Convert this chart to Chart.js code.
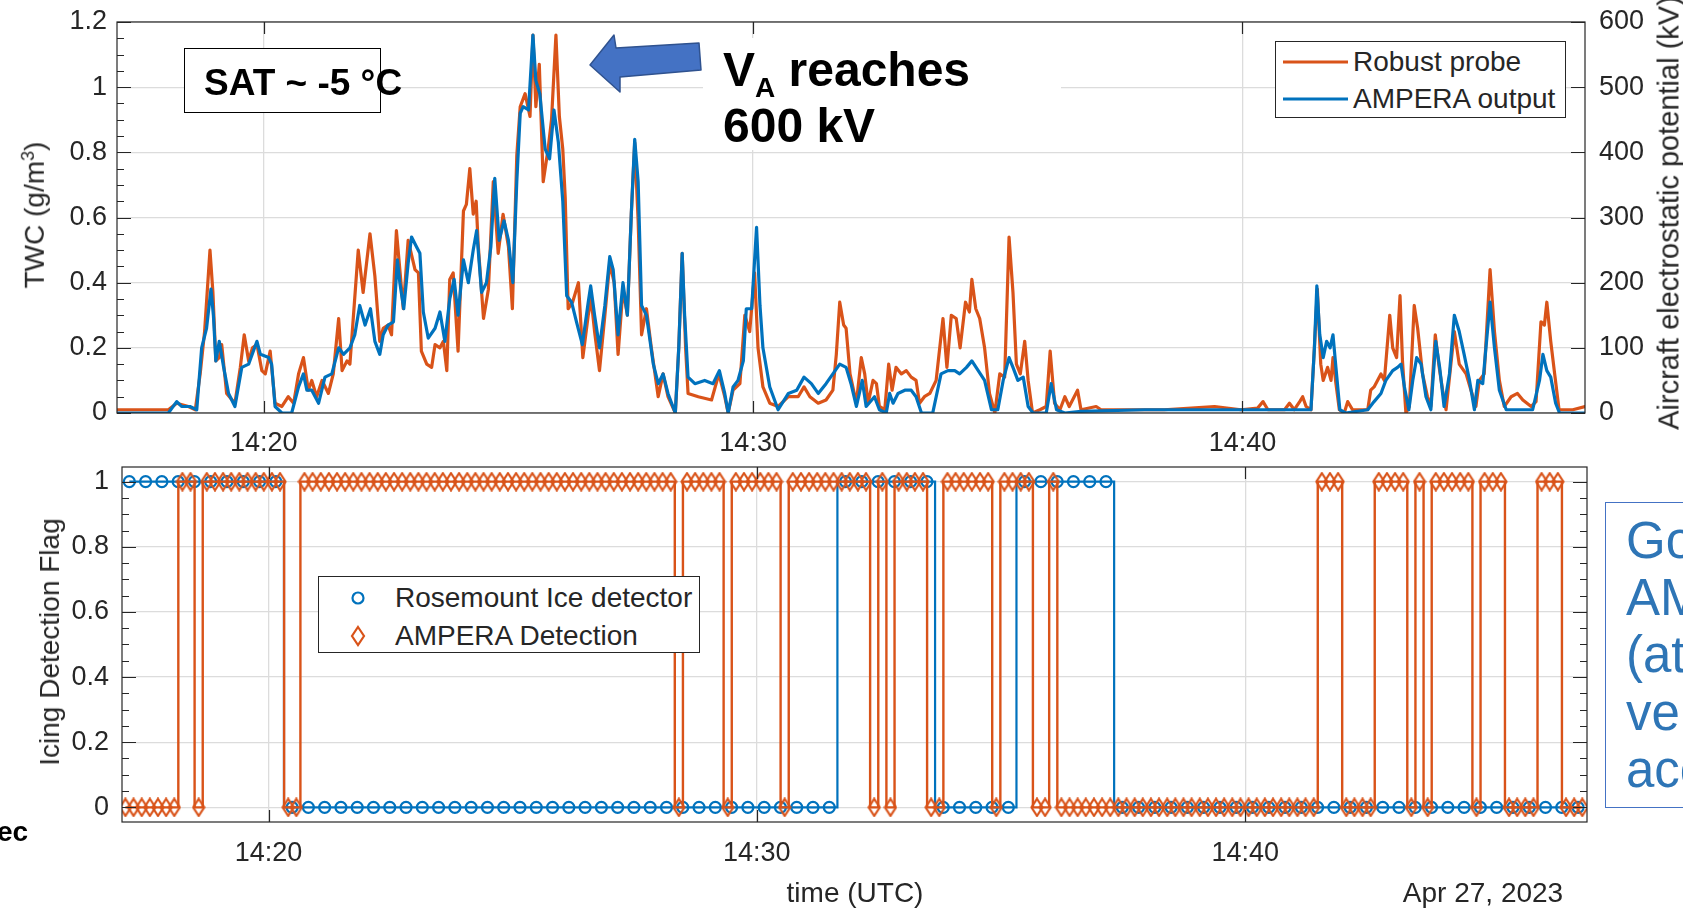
<!DOCTYPE html>
<html lang="en">
<head>
  <meta charset="UTF-8" />
  <title>TWC and icing detection - Apr 27, 2023</title>
  <script src="https://cdn.jsdelivr.net/npm/chart.js"></script>
  <style>
    body { margin: 0; background: #fff; }
    #fig {
      position: relative; width: 1683px; height: 908px; overflow: hidden;
      font-family: 'Liberation Sans', Arial, Helvetica, sans-serif; color: #262626;
    }
    #fig canvas { position: absolute; left: 0; }
    .lbl { position: absolute; white-space: nowrap; font-size: 28px; line-height: 1; }
    .rot { transform: translate(-50%, -50%) rotate(-90deg); }
    .ctr { transform: translate(-50%, -50%); }
    .box { position: absolute; background: #fff; box-sizing: border-box; }
    .legend { border: 1px solid #262626; }
    .bold { font-weight: bold; color: #000; }
  </style>
</head>
<body>
<div id="fig">
  <canvas id="twcChart" width="1683" height="460" style="top:0"></canvas>
  <canvas id="flagChart" width="1683" height="448" style="top:460px"></canvas>

  <!-- axis titles -->
  <div class="lbl rot" style="left:34px;top:215px">TWC (g/m<sup style="font-size:18px">3</sup>)</div>
  <div class="lbl rot" style="left:1669px;top:213px;font-size:29px">Aircraft electrostatic potential (kV)</div>
  <div class="lbl rot" style="left:50px;top:642px">Icing Detection Flag</div>
  <div class="lbl ctr" style="left:855px;top:893px">time (UTC)</div>
  <div class="lbl ctr" style="left:1483px;top:893px">Apr 27, 2023</div>

  <!-- top legend -->
  <div class="box legend" style="left:1275px;top:41px;width:291px;height:77px">
    <svg width="80" height="77" style="position:absolute;left:0;top:0">
      <line x1="7" y1="20" x2="72" y2="20" stroke="#D95319" stroke-width="3.2" />
      <line x1="7" y1="57" x2="72" y2="57" stroke="#0072BD" stroke-width="3.2" />
    </svg>
    <div class="lbl" style="left:77px;top:6px">Robust probe</div>
    <div class="lbl" style="left:77px;top:43px">AMPERA output</div>
  </div>

  <!-- bottom legend -->
  <div class="box legend" style="left:318px;top:576px;width:382px;height:77px">
    <svg width="70" height="77" style="position:absolute;left:0;top:0">
      <circle cx="39" cy="21" r="5.5" fill="none" stroke="#0072BD" stroke-width="2.2" />
      <polygon points="39,50 45,59 39,68 33,59" fill="none" stroke="#D95319" stroke-width="2.2" />
    </svg>
    <div class="lbl" style="left:76px;top:7px">Rosemount Ice detector</div>
    <div class="lbl" style="left:76px;top:45px">AMPERA Detection</div>
  </div>

  <!-- annotations -->
  <div class="box" style="left:184px;top:48px;width:197px;height:65px;border:1.5px solid #000"></div>
  <div class="lbl bold" style="left:204px;top:64px;font-size:37px">SAT ~ -5 °C</div>

  <svg width="1683" height="908" style="position:absolute;left:0;top:0;pointer-events:none">
    <polygon points="590,65 614,35 616,48 699,43 701,70 620,77 620,92"
             fill="#4472C4" stroke="#2F528F" stroke-width="1.5" stroke-linejoin="round" />
  </svg>
  <div class="box" style="left:703px;top:38px;width:358px;height:112px"></div>
  <div class="lbl bold" style="left:723px;top:46px;font-size:48px">V<span style="font-size:28px;position:relative;top:11px">A</span> reaches</div>
  <div class="lbl bold" style="left:723px;top:102px;font-size:48px">600 kV</div>

  <div class="box" style="left:1605px;top:502px;width:120px;height:306px;border:1.5px solid #4472C4"></div>
  <div class="lbl" style="left:1626px;top:512px;font-size:51px;line-height:57.2px;color:#2E75B6">Go<br>AM<br>(at<br>ver<br>acc</div>

  <div class="lbl bold" style="left:-3px;top:818px;font-size:28px">ec</div>
</div>

<script>
  // ---- top panel: TWC (g/m3), time in minutes after 14:00 UTC ----
  const robustT = [
    17.00, 17.57, 18.05, 18.22, 18.46, 18.60, 18.70, 18.79, 18.90, 18.96,
    19.02, 19.09, 19.14, 19.24, 19.41, 19.52, 19.60, 19.69, 19.77, 19.86,
    19.96, 20.03, 20.13, 20.23, 20.37, 20.50, 20.61, 20.71, 20.81, 20.91,
    20.98, 21.08, 21.19, 21.32, 21.42, 21.53, 21.60, 21.70, 21.76, 21.93,
    22.03, 22.17, 22.27, 22.37, 22.44, 22.54, 22.61, 22.71, 22.85, 22.95,
    23.09, 23.16, 23.22, 23.33, 23.43, 23.50, 23.60, 23.67, 23.74, 23.80,
    23.87, 23.97, 24.08, 24.14, 24.21, 24.28, 24.34, 24.38, 24.49, 24.59,
    24.69, 24.79, 24.89, 25.00, 25.08, 25.17, 25.24, 25.34, 25.44, 25.50,
    25.56, 25.63, 25.71, 25.81, 25.88, 25.97, 26.04, 26.11, 26.16, 26.22,
    26.31, 26.43, 26.52, 26.63, 26.69, 26.76, 26.86, 26.97, 27.07, 27.16,
    27.24, 27.34, 27.43, 27.51, 27.58, 27.65, 27.72, 27.82, 27.92, 28.06,
    28.16, 28.26, 28.41, 28.48, 28.55, 28.62, 28.67, 28.88, 29.15, 29.30,
    29.42, 29.49, 29.59, 29.73, 29.83, 29.93, 30.03, 30.10, 30.20, 30.34,
    30.51, 30.72, 30.92, 31.04, 31.16, 31.33, 31.49, 31.63, 31.70, 31.77,
    31.85, 31.90, 31.98, 32.11, 32.21, 32.28, 32.35, 32.45, 32.52, 32.58,
    32.69, 32.77, 32.84, 32.92, 33.03, 33.13, 33.23, 33.33, 33.40, 33.50,
    33.61, 33.74, 33.88, 33.96, 34.05, 34.15, 34.23, 34.34, 34.42, 34.47,
    34.55, 34.63, 34.73, 34.83, 34.94, 35.04, 35.14, 35.23, 35.31, 35.38,
    35.46, 35.55, 35.62, 35.71, 35.86, 35.99, 36.07, 36.16, 36.27, 36.37,
    36.46, 36.63, 36.70, 37.01, 37.11, 38.40, 39.43, 39.97, 40.31, 40.42,
    40.52, 40.86, 40.96, 41.06, 41.17, 41.23, 41.30, 41.40, 41.47, 41.53,
    41.60, 41.65, 41.74, 41.81, 41.85, 41.91, 41.98, 42.08, 42.15, 42.25,
    42.56, 42.62, 42.69, 42.83, 42.90, 43.01, 43.07, 43.15, 43.22, 43.27,
    43.34, 43.41, 43.51, 43.58, 43.68, 43.78, 43.85, 43.94, 44.02, 44.09,
    44.16, 44.33, 44.43, 44.57, 44.67, 44.77, 44.84, 44.94, 45.06, 45.15,
    45.25, 45.35, 45.49, 45.62, 45.73, 45.90, 46.00, 46.10, 46.17, 46.22,
    46.30, 46.38, 46.47, 46.75, 47.00
  ];
  const robustV = [
    0.01, 0.01, 0.01, 0.03, 0.02, 0.01, 0.12, 0.25, 0.50, 0.37,
    0.16, 0.17, 0.21, 0.06, 0.03, 0.14, 0.24, 0.16, 0.20, 0.21,
    0.13, 0.12, 0.19, 0.03, 0.02, 0.05, 0.03, 0.12, 0.17, 0.07,
    0.10, 0.05, 0.10, 0.06, 0.12, 0.29, 0.13, 0.16, 0.15, 0.50,
    0.37, 0.55, 0.42, 0.22, 0.26, 0.27, 0.24, 0.56, 0.32, 0.53,
    0.44, 0.43, 0.19, 0.15, 0.14, 0.21, 0.20, 0.22, 0.13, 0.41,
    0.43, 0.19, 0.62, 0.64, 0.75, 0.61, 0.65, 0.52, 0.29, 0.38,
    0.71, 0.49, 0.61, 0.51, 0.32, 0.79, 0.94, 0.98, 0.91, 1.16,
    0.94, 1.07, 0.71, 0.81, 0.90, 1.16, 0.91, 0.81, 0.66, 0.32,
    0.34, 0.40, 0.17, 0.30, 0.35, 0.25, 0.13, 0.30, 0.46, 0.40,
    0.18, 0.38, 0.30, 0.61, 0.83, 0.59, 0.24, 0.32, 0.20, 0.05,
    0.12, 0.05, 0.00, 0.20, 0.49, 0.20, 0.06, 0.05, 0.04, 0.12,
    0.05, 0.00, 0.07, 0.09, 0.30, 0.25, 0.43, 0.20, 0.08, 0.03,
    0.02, 0.05, 0.05, 0.08, 0.05, 0.03, 0.04, 0.07, 0.18, 0.34,
    0.27, 0.26, 0.12, 0.03, 0.17, 0.12, 0.03, 0.10, 0.09, 0.02,
    0.01, 0.15, 0.07, 0.14, 0.12, 0.13, 0.11, 0.10, 0.03, 0.05,
    0.06, 0.10, 0.29, 0.14, 0.30, 0.29, 0.20, 0.34, 0.31, 0.41,
    0.32, 0.29, 0.20, 0.06, 0.00, 0.12, 0.11, 0.54, 0.37, 0.15,
    0.12, 0.22, 0.10, 0.00, 0.01, 0.02, 0.19, 0.03, 0.01, 0.05,
    0.02, 0.07, 0.01, 0.02, 0.01, 0.01, 0.02, 0.01, 0.015, 0.035,
    0.01, 0.01, 0.03, 0.01, 0.035, 0.05, 0.02, 0.01, 0.20, 0.38,
    0.15, 0.10, 0.14, 0.10, 0.17, 0.09, 0.01, 0.00, 0.035, 0.01,
    0.01, 0.07, 0.08, 0.12, 0.10, 0.30, 0.20, 0.17, 0.36, 0.16,
    0.00, 0.02, 0.33, 0.26, 0.12, 0.05, 0.02, 0.24, 0.14, 0.07,
    0.01, 0.25, 0.15, 0.12, 0.07, 0.02, 0.10, 0.12, 0.44, 0.25,
    0.10, 0.02, 0.05, 0.06, 0.04, 0.02, 0.035, 0.28, 0.27, 0.34,
    0.22, 0.12, 0.01, 0.01, 0.02
  ];
  const amperaT = [
    17.00, 18.05, 18.22, 18.32, 18.49, 18.63, 18.73, 18.83, 18.92, 18.97,
    19.02, 19.09, 19.18, 19.28, 19.41, 19.55, 19.69, 19.86, 19.93, 20.10,
    20.16, 20.23, 20.37, 20.57, 20.71, 20.81, 20.88, 20.98, 21.12, 21.25,
    21.39, 21.53, 21.63, 21.76, 21.86, 21.96, 22.07, 22.18, 22.27, 22.37,
    22.44, 22.54, 22.65, 22.73, 22.78, 22.86, 22.95, 23.02, 23.12, 23.19,
    23.26, 23.36, 23.50, 23.60, 23.70, 23.80, 23.89, 23.97, 24.08, 24.18,
    24.28, 24.35, 24.45, 24.55, 24.64, 24.72, 24.81, 24.91, 25.00, 25.09,
    25.17, 25.24, 25.30, 25.41, 25.50, 25.56, 25.64, 25.75, 25.84, 25.93,
    26.02, 26.11, 26.19, 26.29, 26.39, 26.51, 26.63, 26.68, 26.76, 26.86,
    26.97, 27.07, 27.14, 27.24, 27.34, 27.43, 27.51, 27.58, 27.65, 27.72,
    27.82, 27.96, 28.06, 28.16, 28.26, 28.41, 28.48, 28.55, 28.60, 28.67,
    28.81, 29.01, 29.18, 29.31, 29.42, 29.49, 29.59, 29.69, 29.80, 29.86,
    29.97, 30.07, 30.14, 30.20, 30.34, 30.51, 30.72, 30.89, 31.04, 31.19,
    31.33, 31.49, 31.63, 31.77, 31.90, 32.00, 32.11, 32.23, 32.31, 32.48,
    32.58, 32.72, 32.79, 32.86, 32.96, 33.10, 33.23, 33.33, 33.44, 33.67,
    33.84, 33.98, 34.12, 34.22, 34.36, 34.47, 34.60, 34.73, 34.87, 35.00,
    35.11, 35.23, 35.31, 35.41, 35.52, 35.62, 35.72, 35.99, 36.09, 36.20,
    36.37, 36.70, 38.00, 40.00, 41.40, 41.47, 41.52, 41.58, 41.65, 41.72,
    41.79, 41.85, 41.91, 41.99, 42.11, 42.56, 42.69, 42.83, 42.93, 43.07,
    43.17, 43.24, 43.31, 43.40, 43.48, 43.56, 43.65, 43.75, 43.85, 43.95,
    44.03, 44.12, 44.23, 44.33, 44.43, 44.53, 44.64, 44.74, 44.81, 44.91,
    45.06, 45.15, 45.25, 45.39, 45.59, 45.93, 46.07, 46.14, 46.22, 46.30,
    46.40, 46.48, 47.00
  ];
  const amperaV = [
    0.00, 0.00, 0.035, 0.02, 0.02, 0.01, 0.20, 0.26, 0.38, 0.30,
    0.16, 0.22, 0.14, 0.06, 0.02, 0.14, 0.15, 0.22, 0.18, 0.17,
    0.15, 0.02, 0.00, 0.00, 0.08, 0.12, 0.07, 0.07, 0.03, 0.11,
    0.12, 0.20, 0.18, 0.20, 0.24, 0.33, 0.27, 0.32, 0.22, 0.18,
    0.24, 0.27, 0.28, 0.47, 0.40, 0.32, 0.46, 0.54, 0.51, 0.49,
    0.31, 0.23, 0.26, 0.31, 0.22, 0.35, 0.41, 0.30, 0.47, 0.40,
    0.50, 0.56, 0.37, 0.40, 0.51, 0.72, 0.53, 0.59, 0.53, 0.40,
    0.71, 0.92, 0.94, 0.93, 1.16, 1.02, 0.98, 0.81, 0.78, 0.93,
    0.83, 0.65, 0.36, 0.34, 0.28, 0.21, 0.34, 0.39, 0.30, 0.20,
    0.33, 0.48, 0.44, 0.24, 0.40, 0.30, 0.61, 0.84, 0.71, 0.33,
    0.30, 0.15, 0.09, 0.12, 0.06, 0.00, 0.20, 0.49, 0.30, 0.11,
    0.09, 0.10, 0.09, 0.13, 0.06, 0.00, 0.08, 0.10, 0.16, 0.32,
    0.32, 0.57, 0.33, 0.20, 0.08, 0.01, 0.06, 0.07, 0.11, 0.09,
    0.06, 0.09, 0.12, 0.15, 0.14, 0.09, 0.02, 0.10, 0.02, 0.05,
    0.01, 0.00, 0.06, 0.03, 0.06, 0.07, 0.07, 0.05, 0.00, 0.00,
    0.12, 0.13, 0.13, 0.12, 0.14, 0.16, 0.13, 0.10, 0.01, 0.01,
    0.10, 0.17, 0.14, 0.10, 0.11, 0.02, 0.00, 0.00, 0.09, 0.01,
    0.00, 0.005, 0.01, 0.01, 0.01, 0.20, 0.39, 0.24, 0.17, 0.22,
    0.20, 0.24, 0.14, 0.01, 0.00, 0.01, 0.035, 0.06, 0.10, 0.13,
    0.14, 0.15, 0.08, 0.01, 0.10, 0.17, 0.15, 0.05, 0.01, 0.22,
    0.14, 0.02, 0.12, 0.30, 0.25, 0.18, 0.10, 0.01, 0.10, 0.09,
    0.34, 0.20, 0.07, 0.01, 0.01, 0.01, 0.10, 0.18, 0.13, 0.11,
    0.03, 0.00, 0.00
  ];
  const timeTicks = [20, 30, 40];

  // ---- bottom panel: detection flags, regular sampling ----
  const ampStart = 17.07, ampStep = 1 / 6;   // 10 s
  const ampFlag = [
    0,0,0,0,0,0,0,1,1,0, 1,1,1,1,1,1,1,1,1,1, 0,0,1,1,1,1,1,1,1,1,
    1,1,1,1,1,1,1,1,1,1, 1,1,1,1,1,1,1,1,1,1, 1,1,1,1,1,1,1,1,1,1,
    1,1,1,1,1,1,1,1,0,1, 1,1,1,1,0,1,1,1,1,1, 1,0,1,1,1,1,1,1,1,1,
    1,1,0,1,0,1,1,1,1,0, 0,1,1,1,1,1,1,0,1,1, 1,1,0,0,1,0,0,0,0,0,
    0,0,0,0,0,0,0,0,0,0, 0,0,0,0,0,0,0,0,0,0, 0,0,0,0,0,0,0,1,1,1,
    0,0,0,0,1,1,1,1,0,1, 0,1,1,1,1,1,0,1,1,1, 0,0,0,0,1,1,1,0,0,0
  ];
  const rosStart = 17.15, rosStep = 1 / 3;   // 20 s
  const rosFlag = [
    1,1,1,1,1,1,1,1,1,1, 0,0,0,0,0,0,0,0,0,0, 0,0,0,0,0,0,0,0,0,0,
    0,0,0,0,0,0,0,0,0,0, 0,0,0,0,1,1,1,1,1,1, 0,0,0,0,0,1,1,1,1,1,
    1,0,0,0,0,0,0,0,0,0, 0,0,0,0,0,0,0,0,0,0, 0,0,0,0,0,0,0,0,0,0
  ];

  const ORANGE = '#D95319', BLUE = '#0072BD', AXIS = '#262626', GRID = '#dcdcdc';
  Chart.defaults.font.family = "'Liberation Sans', Arial, Helvetica, sans-serif";
  Chart.defaults.color = AXIS;

  const range = (a, b, s) => {
    const out = [];
    for (let v = a; v <= b + 1e-9; v += s) out.push(Math.round(v * 1000) / 1000);
    return out;
  };
  const pts = (xs, ys) => xs.map((x, i) => ({ x, y: ys[i] }));
  const sampled = (start, step, flags) => flags.map((f, i) => ({ x: start + i * step, y: f }));
  const fmt = v => String(Number(v.toFixed(2)));

  // MATLAB-like box with inward ticks
  const frame = {
    id: 'frame',
    afterDatasetsDraw(chart, args, o) {
      const { ctx, chartArea: a, scales } = chart;
      ctx.save();
      ctx.strokeStyle = AXIS;
      ctx.lineWidth = 1.2;
      ctx.beginPath();
      const seg = (x1, y1, x2, y2) => { ctx.moveTo(x1, y1); ctx.lineTo(x2, y2); };
      o.x.forEach(v => {
        const p = Math.round(scales.x.getPixelForValue(v)) + 0.5;
        seg(p, a.bottom, p, a.bottom - 12);
        seg(p, a.top, p, a.top + 12);
      });
      o.sides.forEach(s => {
        const sc = scales[s.scale];
        const edge = s.side === 'left' ? a.left : a.right;
        const dir = s.side === 'left' ? 1 : -1;
        s.minor.forEach(v => {
          const p = Math.round(sc.getPixelForValue(v)) + 0.5;
          const len = s.major.includes(v) ? 14 : 7;
          seg(edge, p, edge + dir * len, p);
        });
      });
      ctx.stroke();
      ctx.strokeRect(a.left, a.top, a.right - a.left, a.bottom - a.top);
      ctx.restore();
    }
  };

  const zeroPad = s => { s.paddingTop = s.paddingBottom = s.paddingLeft = s.paddingRight = 0; };
  const tickFont = { size: 27 };

  new Chart(document.getElementById('twcChart'), {
    type: 'line',
    data: {
      datasets: [
        { label: 'AMPERA output', data: pts(amperaT, amperaV), borderColor: BLUE, borderWidth: 3.2, pointRadius: 0, yAxisID: 'y' },
        { label: 'Robust probe', data: pts(robustT, robustV), borderColor: ORANGE, borderWidth: 3.2, pointRadius: 0, yAxisID: 'y' }
      ]
    },
    options: {
      responsive: false, animation: false, devicePixelRatio: 1,
      layout: { padding: { top: 22, left: 0, right: 0, bottom: 0 }, autoPadding: false },
      plugins: {
        legend: { display: false }, tooltip: { enabled: false },
        frame: {
          x: timeTicks,
          sides: [
            { side: 'left', scale: 'y', major: range(0, 1.2, 0.2), minor: range(0, 1.2, 0.05) },
            { side: 'right', scale: 'y2', major: range(0, 600, 100), minor: range(0, 600, 100) }
          ]
        }
      },
      elements: { line: { tension: 0, borderJoinStyle: 'round', borderCapStyle: 'round' } },
      scales: {
        x: {
          type: 'linear', min: 17, max: 47,
          afterBuildTicks: s => { s.ticks = timeTicks.map(value => ({ value })); },
          afterFit: s => { s.height = 47; zeroPad(s); },
          ticks: { font: tickFont, padding: 14, maxRotation: 0, callback: v => '14:' + v },
          grid: { color: GRID, lineWidth: 1.3, drawTicks: false },
          border: { display: false }
        },
        y: {
          position: 'left', min: 0, max: 1.2,
          afterBuildTicks: s => { s.ticks = range(0, 1.2, 0.2).map(value => ({ value })); },
          afterFit: s => { s.width = 117; zeroPad(s); },
          ticks: { font: tickFont, padding: 10, callback: fmt },
          grid: { color: GRID, lineWidth: 1.3, drawTicks: false },
          border: { display: false }
        },
        y2: {
          position: 'right', min: 0, max: 600,
          afterBuildTicks: s => { s.ticks = range(0, 600, 100).map(value => ({ value })); },
          afterFit: s => { s.width = 98; zeroPad(s); },
          ticks: { font: tickFont, padding: 14, callback: fmt },
          grid: { drawOnChartArea: false, drawTicks: false },
          border: { display: false }
        }
      }
    },
    plugins: [frame]
  });

  // open diamond marker, a little taller than wide
  function diamond(w, h, color) {
    const c = document.createElement('canvas');
    c.width = w; c.height = h;
    const g = c.getContext('2d');
    g.strokeStyle = color; g.lineWidth = 2.2;
    g.beginPath();
    g.moveTo(w / 2, 1.5); g.lineTo(w - 1.5, h / 2); g.lineTo(w / 2, h - 1.5); g.lineTo(1.5, h / 2);
    g.closePath(); g.stroke();
    return c;
  }

  new Chart(document.getElementById('flagChart'), {
    type: 'line',
    data: {
      datasets: [
        {
          label: 'AMPERA Detection', data: sampled(ampStart, ampStep, ampFlag),
          borderColor: ORANGE, borderWidth: 2.4, stepped: 'middle',
          pointStyle: diamond(14, 20, ORANGE), pointRadius: 7
        },
        {
          label: 'Rosemount Ice detector', data: sampled(rosStart, rosStep, rosFlag),
          borderColor: BLUE, borderWidth: 2.2, stepped: 'middle',
          pointStyle: 'circle', pointRadius: 5.5, pointBorderWidth: 2.2,
          pointBorderColor: BLUE, pointBackgroundColor: 'rgba(0,0,0,0)'
        }
      ]
    },
    options: {
      responsive: false, animation: false, devicePixelRatio: 1,
      layout: { padding: { top: 7, left: 0, right: 96, bottom: 0 }, autoPadding: false },
      plugins: {
        legend: { display: false }, tooltip: { enabled: false },
        frame: {
          x: timeTicks,
          sides: [
            { side: 'left', scale: 'y', major: range(0, 1, 0.2), minor: range(0, 1, 0.05) },
            { side: 'right', scale: 'y', major: range(0, 1, 0.2), minor: range(0, 1, 0.05) }
          ]
        }
      },
      scales: {
        x: {
          type: 'linear', min: 17, max: 47,
          afterBuildTicks: s => { s.ticks = timeTicks.map(value => ({ value })); },
          afterFit: s => { s.height = 86; zeroPad(s); },
          ticks: { font: tickFont, padding: 15, maxRotation: 0, callback: v => '14:' + v },
          grid: { color: GRID, lineWidth: 1.3, drawTicks: false },
          border: { display: false }
        },
        y: {
          min: -0.045, max: 1.045,
          afterBuildTicks: s => { s.ticks = range(0, 1, 0.2).map(value => ({ value })); },
          afterFit: s => { s.width = 122; zeroPad(s); },
          ticks: { font: tickFont, padding: 13, callback: fmt },
          grid: { color: GRID, lineWidth: 1.3, drawTicks: false },
          border: { display: false }
        }
      }
    },
    plugins: [frame]
  });
</script>
</body>
</html>
